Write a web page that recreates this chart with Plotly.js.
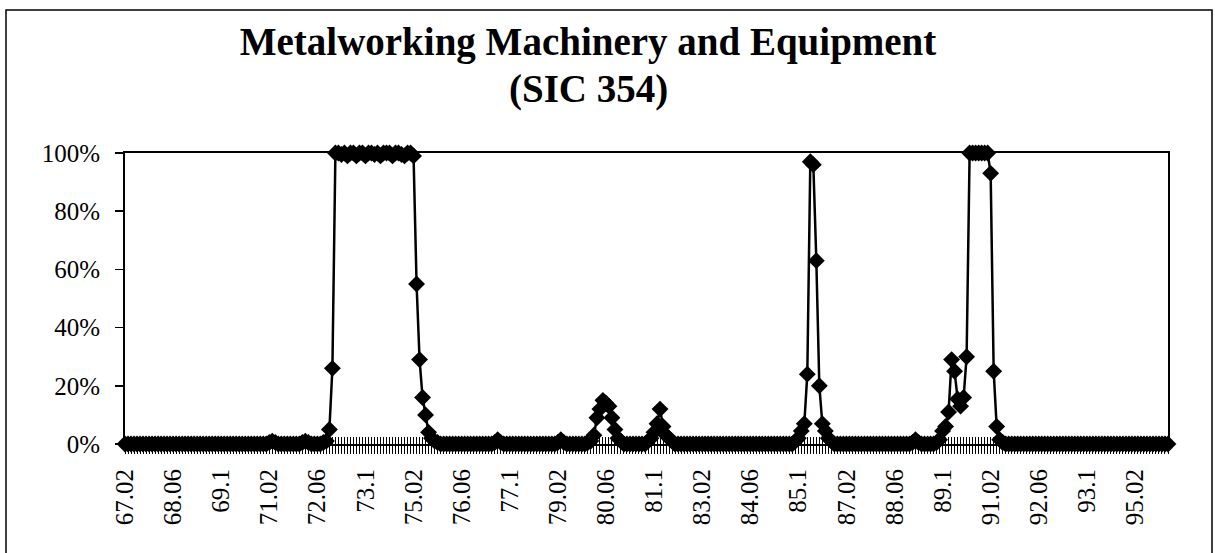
<!DOCTYPE html>
<html>
<head>
<meta charset="utf-8">
<script src="https://cdn.plot.ly/plotly-3.0.1.min.js"></script>
<style>html,body{margin:0;padding:0;background:#fff;}#chart{width:1215px;height:553px;}</style>
</head>
<body>
<div id="chart"></div>
<script>
// Monthly categories from 67.02 to 96.01 (YY.MM, trailing zero dropped)
const startYear = 67, startMonth = 2, nPeriods = 348;
const categories = [];
for (let i = 0; i < nPeriods; i++) {
  const m = (startMonth - 1) + i;
  const yy = startYear + Math.floor(m / 12);
  const mm = (m % 12) + 1;
  const mmText = mm < 10 ? '0' + mm : (mm === 10 ? '1' : String(mm));
  categories.push(yy + '.' + mmText);
}

// Labelled ticks (every 16th month)
const tickLabels = ['67.02','68.06','69.1','71.02','72.06','73.1','75.02','76.06','77.1','79.02',
  '80.06','81.1','83.02','84.06','85.1','87.02','88.06','89.1','91.02','92.06','93.1','95.02'];

// Series values in percent, one row per 12 months starting Feb 1967
const values = [
  0,0,0,0,0,0,0,0,0,0,0,0,
  0,0,0,0,0,0,0,0,0,0,0,0,
  0,0,0,0,0,0,0,0,0,0,0,0,
  0,0,0,0,0,0,0,0,0,0,0,0,
  0.5,1,0.5,0,0,0,0,0,0,0,0,0.5,
  1,0.5,0,0,0,0,0.5,1,5,26,100,100,
  99.5,100,99,100,100,99,100,100,99,100,100,99.5,
  100,99,100,100,100,99,100,100,99.5,99,100,100,
  99,55,29,16,10,4,2,1,0.5,0,0,0,
  0,0,0,0,0,0,0,0,0,0,0,0,
  0,0,0,0.5,1.5,0.5,0,0,0,0,0,0,
  0,0,0,0,0,0,0,0,0,0,0,0,
  0.5,1.5,0.5,0,0,0,0,0,0,0,0.5,1,
  3,9,12,15,14,13,9,5,2,1,0,0,
  0,0,0,0,0,0,1,2,4,7,12,6,
  3,2,1,0,0,0,0,0,0,0,0,0,
  0,0,0,0,0,0,0,0,0,0,0,0,
  0,0,0,0,0,0,0,0,0,0,0,0,
  0,0,0,0,0,0,0,1,2,4.5,7,24,
  97,96,63,20,7,4.5,2,1,0,0,0,0,
  0,0,0,0,0,0,0,0,0,0,0,0,
  0,0,0,0,0,0,0,0,0,0,0.5,1.5,
  0.5,0,0,0,0,0,0.5,1.5,4.5,6,11,29,
  25,15.5,13,16,30,100,100,100,100,100,100,100,
  93,25,6,1.5,0.5,0,0,0,0,0,0,0,
  0,0,0,0,0,0,0,0,0,0,0,0,
  0,0,0,0,0,0,0,0,0,0,0,0,
  0,0,0,0,0,0,0,0,0,0,0,0,
  0,0,0,0,0,0,0,0,0,0,0,0
];

const titleLine1 = 'Metalworking Machinery and Equipment';
const titleLine2 = '(SIC 354)';

const W = 1215, H = 553;
const L = 125, R = 47, T = 153, B = 109;
const pw = W - L - R, ph = H - T - B;
const px2x = p => (p - L) / pw;
const py2y = p => (H - B - p) / ph;

const serif = 'Liberation Serif, Times New Roman, serif';
const tickText = categories.map(c => tickLabels.includes(c) ? c : '');

const traces = [
  {
    x: categories, y: values, type: 'scatter', mode: 'lines+markers',
    line: {color: '#000', width: 2.5},
    marker: {symbol: 'diamond', size: 13, color: '#000'},
    cliponaxis: false, showlegend: false, hoverinfo: 'x+y'
  },
  {
    x: categories, y: values, type: 'scatter', mode: 'lines',
    xaxis: 'x2', opacity: 0, line: {width: 0}, showlegend: false, hoverinfo: 'skip'
  }
];

const layout = {
  width: W, height: H,
  margin: {l: L, r: R, t: T, b: B, pad: 0},
  paper_bgcolor: '#fff', plot_bgcolor: '#fff',
  showlegend: false,
  title: {
    text: titleLine1,
    font: {family: serif, size: 39, weight: 'bold', color: '#000'},
    xref: 'container', x: 588 / W, xanchor: 'center',
    yref: 'container', y: 1 - 28 / H, yanchor: 'top'
  },
  annotations: [{
    text: titleLine2, showarrow: false,
    font: {family: serif, size: 39, weight: 'bold', color: '#000'},
    xref: 'paper', x: px2x(588), xanchor: 'center',
    yref: 'paper', y: py2y(89), yanchor: 'middle'
  }],
  xaxis: {
    type: 'category', range: [0, nPeriods - 1],
    tickmode: 'array', tickvals: categories, ticktext: tickText,
    ticks: 'outside', ticklen: 8, tickwidth: 1, tickcolor: '#000',
    tickangle: -90, ticklabelstandoff: 5,
    tickfont: {family: serif, size: 25, color: '#000'},
    showline: true, linecolor: '#000', linewidth: 2, mirror: true,
    showgrid: false, zeroline: false, fixedrange: true
  },
  xaxis2: {
    type: 'category', overlaying: 'x', anchor: 'y', side: 'bottom',
    range: [0, nPeriods - 1],
    tickmode: 'array', tickvals: categories, ticktext: categories.map(() => ''),
    ticks: 'inside', ticklen: 7, tickwidth: 1, tickcolor: '#000',
    showticklabels: false, showline: false, showgrid: false, zeroline: false
  },
  yaxis: {
    range: [0, 100], tickmode: 'linear', tick0: 0, dtick: 20, ticksuffix: '%',
    ticks: 'outside', ticklen: 8, tickwidth: 1.5, tickcolor: '#000',
    ticklabelstandoff: 10,
    tickfont: {family: serif, size: 25, color: '#000'},
    showline: true, linecolor: '#000', linewidth: 2, mirror: true,
    showgrid: false, zeroline: false, fixedrange: true
  },
  shapes: [{
    type: 'rect', xref: 'paper', yref: 'paper',
    x0: px2x(6), x1: px2x(1212), y0: py2y(560), y1: py2y(10),
    line: {color: '#000', width: 1.5}, fillcolor: 'rgba(0,0,0,0)', layer: 'below'
  }]
};

Plotly.newPlot('chart', traces, layout, {staticPlot: true, displayModeBar: false});
</script>
</body>
</html>
